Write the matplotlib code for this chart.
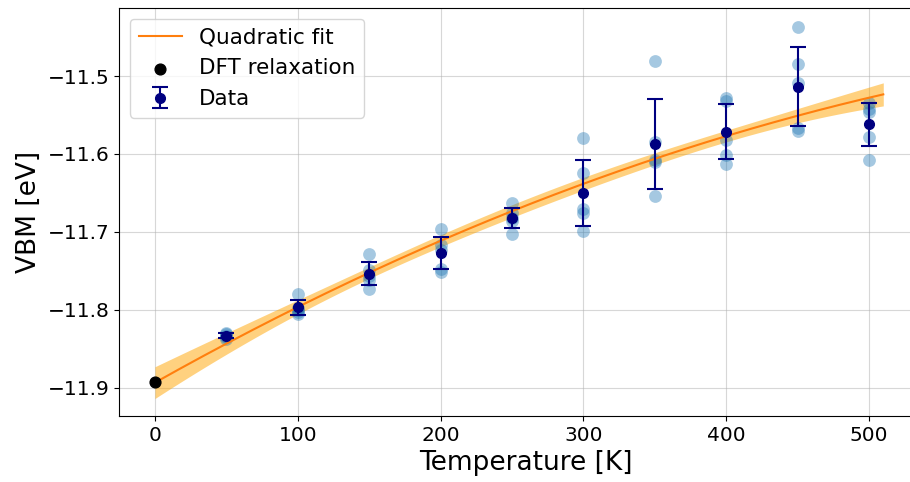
import numpy as np
import matplotlib
matplotlib.use("Agg")
import matplotlib.pyplot as plt

# VBM from snapshots at each temperature (5 samples per temperature)
temperatures = [50, 100, 150, 200, 250, 300, 350, 400, 450, 500]
vbm_samples = [
    [-11.829, -11.831, -11.833, -11.835, -11.837],
    [-11.779, -11.797, -11.800, -11.803, -11.805],
    [-11.728, -11.749, -11.756, -11.762, -11.773],
    [-11.696, -11.717, -11.723, -11.748, -11.751],
    [-11.663, -11.676, -11.682, -11.686, -11.703],
    [-11.580, -11.625, -11.671, -11.676, -11.699],
    [-11.481, -11.584, -11.608, -11.610, -11.654],
    [-11.528, -11.532, -11.582, -11.601, -11.613],
    [-11.437, -11.485, -11.509, -11.567, -11.571],
    [-11.535, -11.542, -11.546, -11.578, -11.608],
]

# relaxed structure at 0 K
dft_T = 0
dft_vbm = -11.892

if __name__ == "__main__":
    vbm_samples = np.array(vbm_samples)
    T = np.array(temperatures)
    T_all = np.repeat(T, vbm_samples.shape[1])
    vbm_all = vbm_samples.ravel()

    mean = vbm_samples.mean(axis=1)
    std = vbm_samples.std(axis=1)

    # quadratic fit with 1 sigma band from the covariance
    coeffs, cov = np.polyfit(T_all, vbm_all, 2, cov=True)
    T_fit = np.linspace(0, 510, 300)
    J = np.vstack([T_fit ** 2, T_fit, np.ones_like(T_fit)]).T
    vbm_fit = J @ coeffs
    sigma = np.sqrt(np.einsum("ij,jk,ik->i", J, cov, J))

    plt.figure(figsize=(9.1, 4.82), dpi=100)
    plt.subplots_adjust(left=0.131, right=1.024, top=0.983, bottom=0.137)

    plt.fill_between(T_fit, vbm_fit - sigma, vbm_fit + sigma, color="orange", alpha=0.5, linewidth=0)
    plt.plot(T_fit, vbm_fit, color="C1", label="Quadratic fit")
    plt.scatter(T_all, vbm_all, s=85, color="C0", alpha=0.4, linewidths=0)
    plt.scatter(dft_T, dft_vbm, s=60, color="black", zorder=4, label="DFT relaxation")
    plt.errorbar(T, mean, yerr=std, fmt="o", color="navy", markersize=7,
                 elinewidth=1.5, capsize=6, capthick=1.5, zorder=5, label="Data")

    plt.xlim(-25, 544)
    plt.ylim(-11.936, -11.413)
    plt.yticks([-11.9, -11.8, -11.7, -11.6, -11.5])
    plt.tick_params(labelsize=14.5)
    plt.xlabel("Temperature [K]", fontsize=19)
    plt.ylabel("VBM [eV]", fontsize=19)
    plt.grid(alpha=0.5)
    plt.gca().set_axisbelow(True)
    plt.legend(loc="upper left", fontsize=15.5)
    plt.savefig("out.png")
